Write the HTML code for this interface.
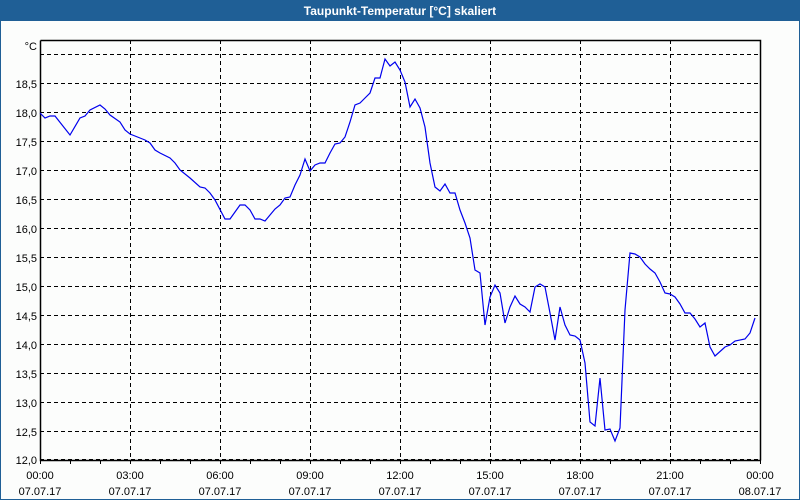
<!DOCTYPE html>
<html><head><meta charset="utf-8"><style>
html,body{margin:0;padding:0;width:800px;height:500px;overflow:hidden;background:#fcfdfc}
</style></head><body>
<svg width="800" height="500" xmlns="http://www.w3.org/2000/svg" font-family="Liberation Sans, DejaVu Sans, sans-serif">
<rect x="0" y="0" width="800" height="500" fill="#fcfdfc"/>
<rect x="0.5" y="0.5" width="799" height="499" fill="none" stroke="#1f5f96" stroke-width="1"/>
<rect x="0" y="0" width="800" height="21" fill="#1f5f96"/>
<text x="400" y="15" fill="#fff" font-size="12" font-weight="bold" text-anchor="middle">Taupunkt-Temperatur [°C] skaliert</text>
<g stroke="#000" stroke-width="1" stroke-dasharray="4,3" fill="none">
<path d="M40 54.5H760M40 83.5H760M40 112.5H760M40 141.5H760M40 170.5H760M40 199.5H760M40 228.5H760M40 257.5H760M40 286.5H760M40 315.5H760M40 344.5H760M40 373.5H760M40 402.5H760M40 431.5H760M40 459.5H760"/>
<path d="M130.5 40V460M220.5 40V460M310.5 40V460M400.5 40V460M490.5 40V460M580.5 40V460M670.5 40V460"/>
</g>
<path d="M40.5 40.5H760.5V460.5M40.5 40.5V460.5H760.5" stroke="#000" stroke-width="1.5" fill="none"/>
<g stroke="#000" stroke-width="1">
<path d="M40.5 460v4M70.5 460v4M100.5 460v4M130.5 460v4M160.5 460v4M190.5 460v4M220.5 460v4M250.5 460v4M280.5 460v4M310.5 460v4M340.5 460v4M370.5 460v4M400.5 460v4M430.5 460v4M460.5 460v4M490.5 460v4M520.5 460v4M550.5 460v4M580.5 460v4M610.5 460v4M640.5 460v4M670.5 460v4M700.5 460v4M730.5 460v4M760.5 460v4"/>
</g>
<g font-size="11" fill="#000" text-anchor="end">
<text x="37" y="50">°C</text>
<text x="37" y="88">18,5</text><text x="37" y="117">18,0</text><text x="37" y="146">17,5</text><text x="37" y="175">17,0</text><text x="37" y="204">16,5</text><text x="37" y="233">16,0</text><text x="37" y="262">15,5</text><text x="37" y="291">15,0</text><text x="37" y="320">14,5</text><text x="37" y="349">14,0</text><text x="37" y="378">13,5</text><text x="37" y="407">13,0</text><text x="37" y="436">12,5</text><text x="37" y="464">12,0</text>
</g>
<g font-size="11" fill="#000" text-anchor="middle">
<text x="40" y="479">00:00</text><text x="40" y="495">07.07.17</text>
<text x="130" y="479">03:00</text><text x="130" y="495">07.07.17</text>
<text x="220" y="479">06:00</text><text x="220" y="495">07.07.17</text>
<text x="310" y="479">09:00</text><text x="310" y="495">07.07.17</text>
<text x="400" y="479">12:00</text><text x="400" y="495">07.07.17</text>
<text x="490" y="479">15:00</text><text x="490" y="495">07.07.17</text>
<text x="580" y="479">18:00</text><text x="580" y="495">07.07.17</text>
<text x="670" y="479">21:00</text><text x="670" y="495">07.07.17</text>
<text x="760" y="479">00:00</text><text x="760" y="495">08.07.17</text>
</g>
<polyline fill="none" stroke="#0000ee" stroke-width="1.2" points="40,113 45,118 50,116 55,116 70,135 80,118 85,116 90,110 100,105 105,109 110,115 120,122 125,130 130,134 140,138 145,140 150,143 155,150 160,153 170,158 175,163 180,170 190,178 200,187 205,188 210,193 215,200 225,219 230,219 235,212 240,205 245,205 250,210 255,219 260,219 265,221 270,215 275,209 280,205 285,198 290,197 295,185 300,175 305,159 310,171 315,165 320,163 325,163 330,153 335,144 340,143 345,137 350,122 355,105 360,103 365,98 370,93 375,78 380,78 385,59 390,66 395,62 400,70 405,82 410,107 415,99 420,108 425,127 430,163 435,187 440,191 445,184 450,193 455,193 460,210 465,223 470,238 475,270 480,273 485,325 490,297 495,285 500,293 505,323 510,307 515,296 520,304 525,307 530,312 535,287 540,284 545,287 550,313 555,340 560,307 565,325 570,335 575,336 580,340 585,363 590,422 595,426 600,378 605,430 610,429 615,441 620,428 625,310 630,253 635,254 640,257 645,264 650,269 655,273 660,282 665,293 670,294 675,297 680,304 685,313 690,313 695,319 700,327 705,323 710,347 715,356 725,347 730,345 735,341 745,339 750,333 755,318"/>
</svg>
</body></html>
